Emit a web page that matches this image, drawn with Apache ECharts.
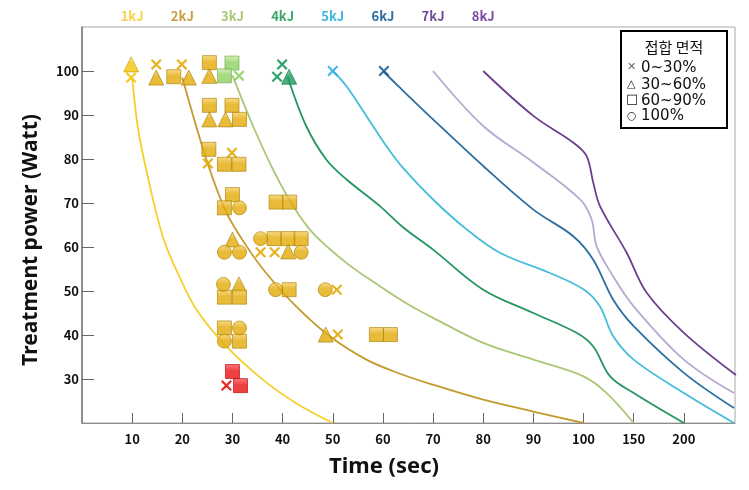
<!DOCTYPE html>
<html>
<head>
<meta charset="utf-8">
<script src="https://cdn.jsdelivr.net/npm/echarts@6/dist/echarts.min.js"></script>
<style>
html,body{margin:0;padding:0;background:#fff;}
#chart{width:749px;height:490px;}
</style>
</head>
<body>
<div id="chart"></div>
<script>
// ---- tick labels ----
const xTickLabels = ['10','20','30','40','50','60','70','80','90','100','150','200'];
const energyLabels = ['1kJ','2kJ','3kJ','4kJ','5kJ','6kJ','7kJ','8kJ'];
const yTicks = [30,40,50,60,70,80,90,100];

// ---- constant-energy curves: [time (sec), power (W)] ----
const curve1kJ = [[10,98.5],[11.1,87.5],[12.8,77.6],[16.1,62.4],[19.4,53.3],[22.8,45.8],[28.8,37.4],[36.1,29.8],[42.7,24.5],[50,20]];
const curve2kJ = [[20,98.5],[24.8,79.9],[28.8,67.8],[32.8,60.2],[36.7,54.1],[42.7,46.5],[49.4,39.7],[56.7,34.4],[63.4,31.2],[70,28.7],[80,25.3],[90,22.6],[100,20]];
const curve3kJ = [[30,99],[34.1,87.5],[38.1,77.6],[42.1,69.3],[46,63.2],[52.7,56.4],[59.4,51.1],[65,47],[70,43.9],[80,38.2],[90,34.4],[100,30.6],[123,26.8],[150,20]];
const curve4kJ = [[41,98.7],[44.7,87.5],[48.7,79.9],[52.7,75.4],[59.4,69.3],[64,64.5],[70,59.4],[80,50.3],[90,45],[98.6,40.5],[109.7,37.4],[126.5,30.6],[150,26.8],[200,20]];
const curve5kJ = [[50,100],[52.7,96.6],[56.7,89.8],[60.7,82.9],[64,78],[70,70.8],[76.7,64],[83.3,58.7],[93.3,54.1],[100.6,50.3],[116.4,46.5],[129.6,39.7],[150,34.4],[200,26.8],[250,20]];
const curve6kJ = [[60,100],[63.4,96.2],[70,89],[80,78.4],[90,68.5],[98,62.4],[109.7,57.1],[129.6,48],[150,42],[200,31.4],[250,23.4]];
const curve7kJ = [[70,100],[80,87.5],[90,79.2],[99.3,70.8],[108,66.3],[113,60.2],[129.6,53.3],[150,46.5],[200,34.4],[250,26.8]];
const curve8kJ = [[80,100],[90,89.8],[98,83.7],[103,80.7],[109.7,74.6],[116.4,69.3],[143,58.7],[163,49.6],[200,40.5],[252,30.9]];

// ---- measured points: [time (sec), power (W)] ----
const yellowX   = [[9.8,98.5]];
const yellowTri = [[9.8,101.5]];
const goldX   = [[14.8,101.5],[19.9,101.5],[25.1,79],[29.9,81.4],[35.6,58.8],[38.4,58.8],[50.8,50.3],[51,40.1]];
const goldTri = [[14.8,98.5],[21.3,98.5],[25.4,98.9],[25.4,89],[28.6,89],[30,61.7],[41.1,59],[31.3,51.5],[48.6,40.1]];
const goldSq  = [[18.3,98.7],[25.4,101.9],[25.4,92.2],[29.9,92.2],[31.4,89],[25.3,82.2],[28.4,78.8],[31.3,78.8],[30,71.9],[28.4,68.9],[38.7,70.2],[41.4,70.2],[38.3,61.9],[41.1,61.9],[43.7,61.9],[28.4,48.6],[31.4,48.6],[41.3,50.3],[28.4,41.6],[31.4,38.6],[58.7,40.1],[61.5,40.1]];
const goldCirc = [[31.4,68.9],[28.4,58.8],[31.4,58.8],[35.6,61.9],[43.7,58.8],[28.2,51.5],[38.6,50.3],[48.5,50.3],[31.4,41.6],[28.4,38.6]];
const lgreenSq = [[29.9,101.8],[28.4,98.9]];
const lgreenX  = [[31.3,98.9]];
const greenX   = [[39.9,101.5],[38.9,98.7]];
const greenTri = [[41.3,98.7]];
const cyanX    = [[50,100]];
const blueX    = [[60.2,100]];
const redSq    = [[30,31.7],[31.6,28.5]];
const redX     = [[28.8,28.5]];

// piecewise time axis: 10 s per unit up to 100 s, then 50 s per unit
function toAxis(t){ return t <= 100 ? t/10 : 10 + (t-100)/50; }
function conv(arr){ return arr.map(p => [toAxis(p[0]), p[1]]); }

const curveColors = ['#F4D02E','#C39A2E','#A9C775','#23965F','#45BDDC','#2C6F9F','#B9A8CF','#6B3F8E'];
const labelColors = ['#F6D24A','#C8A040','#A9C97A','#3AA86A','#3FB6DF','#2A6FA6','#6E4D9B','#7A4AA0'];
const curves = [curve1kJ,curve2kJ,curve3kJ,curve4kJ,curve5kJ,curve6kJ,curve7kJ,curve8kJ];

const X_PATH = 'path://M0,1.4L1.4,0L5,3.6L8.6,0L10,1.4L6.4,5L10,8.6L8.6,10L5,6.4L1.4,10L0,8.6L3.6,5Z';

function grad(light, dark){
  return new echarts.graphic.LinearGradient(0,0,0,1,[{offset:0,color:light},{offset:0.45,color:dark},{offset:1,color:dark}]);
}
const palettes = {
  yellow: ['#FBE27A','#F2C40A','#C99C00'],
  gold:   ['#F7D36A','#E3AA08','#A97F00'],
  lgreen: ['#CDEFA8','#8FD060','#6DA845'],
  green:  ['#55C98E','#1E9A5C','#157045'],
  cyan:   ['#7FD8F2','#2EB3E3','#1C8DB5'],
  blue:   ['#5590C0','#23639A','#1A4C78'],
  red:    ['#FF5A5A','#E81010','#B00000']
};
function scatter(data, shape, pal){
  const p = palettes[pal];
  const isX = shape === 'x';
  return {
    type:'scatter', z:5,
    symbol: isX ? X_PATH : shape,
    symbolSize: isX ? 11 : (shape==='triangle' ? 15 : 14),
    data: conv(data),
    itemStyle: isX ? {color:p[1], opacity:0.9} : {color:grad(p[0],p[1]), borderColor:p[2], borderWidth:0.8},
    emphasis:{disabled:true}, silent:true
  };
}

const series = [];
curves.forEach((c,i)=>{
  series.push({
    type:'line', name:energyLabels[i], data:conv(c), smooth:0.35, showSymbol:false, z:3,
    lineStyle:{color:curveColors[i], width:1.8}, clip:true, silent:true
  });
});
series.push(
  scatter(yellowX,'x','yellow'), scatter(yellowTri,'triangle','yellow'),
  scatter(goldX,'x','gold'), scatter(goldTri,'triangle','gold'),
  scatter(goldSq,'rect','gold'), scatter(goldCirc,'circle','gold'),
  scatter(lgreenSq,'rect','lgreen'), scatter(lgreenX,'x','lgreen'),
  scatter(greenX,'x','green'), scatter(greenTri,'triangle','green'),
  scatter(cyanX,'x','cyan'), scatter(blueX,'x','blue'),
  scatter(redSq,'rect','red'), scatter(redX,'x','red')
);

const rich = {};
labelColors.forEach((c,i)=>{ rich['k'+(i+1)] = {color:c, fontSize:13, fontWeight:'bold', fontFamily:'Noto Sans CJK KR'}; });

const FONT = 'Noto Sans CJK KR';
const LEG = '15px "DejaVu Sans"';
const chart = echarts.init(document.getElementById('chart'), null, {renderer:'canvas'});
chart.setOption({
  animation:false,
  backgroundColor:'#fff',
  grid:{left:82, right:14, top:27, bottom:67, show:true, borderColor:'#A8A8A8', borderWidth:1},
  xAxis:[{
    type:'value', min:0, max:13.02, position:'bottom',
    axisLine:{show:true, lineStyle:{color:'#8C8C8C', width:1.2}},
    axisTick:{show:true, inside:true, length:10, lineStyle:{color:'#666'}, customValues:[1,2,3,4,5,6,7,8,9,10,11,12]},
    axisLabel:{customValues:[1,2,3,4,5,6,7,8,9,10,11,12], formatter:v=>xTickLabels[Math.round(v)-1], color:'#111', fontSize:13, fontWeight:'bold', fontFamily:FONT, margin:10},
    splitLine:{show:false}
  },{
    type:'value', min:0, max:13.02, position:'top',
    axisLine:{show:false}, axisTick:{show:false},
    axisLabel:{customValues:[1,2,3,4,5,6,7,8], formatter:v=>'{k'+Math.round(v)+'|'+energyLabels[Math.round(v)-1]+'}', rich:rich, margin:4},
    splitLine:{show:false}
  }],
  yAxis:{
    type:'value', min:20, max:110,
    axisLine:{show:true, lineStyle:{color:'#777', width:1.5}},
    axisTick:{show:true, inside:true, length:12, lineStyle:{color:'#666'}, customValues:yTicks},
    axisLabel:{customValues:yTicks, color:'#111', fontSize:13, fontWeight:'bold', fontFamily:FONT, margin:3},
    splitLine:{show:false}
  },
  graphic:[
    {type:'text', style:{text:'Time (sec)', x:0, y:0, font:'bold 22px "Noto Sans"', fill:'#111', textAlign:'center', textVerticalAlign:'middle'}, position:[384,467]},
    {type:'text', rotation:Math.PI/2, position:[31,240], style:{text:'Treatment power (Watt)', font:'bold 21px "Noto Sans"', fill:'#111', textAlign:'center', textVerticalAlign:'middle'}},
    {type:'rect', shape:{x:621, y:31, width:106, height:97}, style:{fill:'#fff', stroke:'#000', lineWidth:2}, z:50},
    {type:'text', z:51, style:{x:674, y:47, text:'접합 면적', font:'15px "Noto Sans CJK KR"', fill:'#111', textAlign:'center', textVerticalAlign:'middle'}},
    {type:'text', z:51, style:{x:627, y:67, text:'✕', font:'bold 11px "DejaVu Sans"', fill:'#666', textVerticalAlign:'middle'}},
    {type:'text', z:51, style:{x:641, y:68, text:'0~30%', font:LEG, fill:'#111', textVerticalAlign:'middle'}},
    {type:'text', z:51, style:{x:627, y:84, text:'△', font:'11px "DejaVu Sans"', fill:'#111', textVerticalAlign:'middle'}},
    {type:'text', z:51, style:{x:641, y:85, text:'30~60%', font:LEG, fill:'#111', textVerticalAlign:'middle'}},
    {type:'text', z:51, style:{x:626, y:100, text:'□', font:'13px "DejaVu Sans"', fill:'#111', textVerticalAlign:'middle'}},
    {type:'text', z:51, style:{x:641, y:101, text:'60~90%', font:LEG, fill:'#111', textVerticalAlign:'middle'}},
    {type:'text', z:51, style:{x:627, y:116, text:'○', font:'11px "DejaVu Sans"', fill:'#111', textVerticalAlign:'middle'}},
    {type:'text', z:51, style:{x:641, y:116, text:'100%', font:LEG, fill:'#111', textVerticalAlign:'middle'}}
  ],
  series:series
});
</script>
</body>
</html>
